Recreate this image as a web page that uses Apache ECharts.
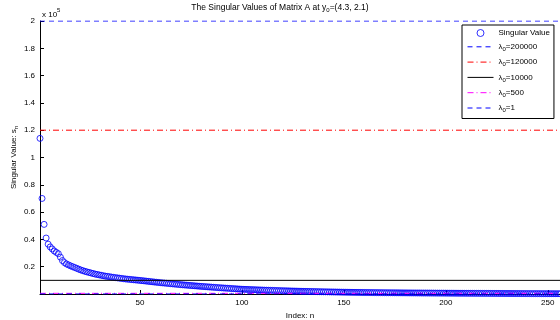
<!DOCTYPE html>
<html>
<head>
<meta charset="utf-8">
<script src="https://cdn.jsdelivr.net/npm/echarts@6/dist/echarts.min.js"></script>
<style>html,body{margin:0;padding:0;background:#fff}#c{width:560px;height:320px}</style>
</head>
<body>
<div id="c"></div>
<script>
// ---- data ----
var singularValues = [
114000,70000,51000,41000,36500,34500,33000,31500,30500,29500,
27000,24500,23000,22000,21300,20600,20000,19400,18800,18200,
17600,17100,16600,16200,15800,15400,15000,14600,14300,14000,
13700,13400,13100,12900,12700,12400,12200,12000,11800,11600,
11400,11200,11000,10850,10700,10550,10400,10250,10100,9950,
9790,9630,9460,9300,9120,8960,8790,8630,8470,8300,
8150,8020,7860,7710,7570,7420,7280,7140,6990,6850,
6720,6590,6470,6350,6220,6090,5970,5850,5720,5600,
5490,5380,5270,5150,5050,4940,4830,4720,4610,4500,
4400,4300,4210,4100,4000,3900,3810,3700,3600,3500,
3440,3380,3320,3250,3200,3140,3080,3020,2960,2900,
2850,2800,2750,2700,2650,2600,2550,2500,2450,2400,
2360,2320,2270,2230,2190,2150,2110,2060,2020,1980,
1945,1910,1875,1840,1805,1770,1735,1700,1665,1630,
1600,1570,1540,1510,1480,1450,1420,1390,1360,1330,
1310,1290,1265,1240,1220,1200,1175,1155,1130,1110,
1095,1080,1060,1045,1030,1015,1000,980,965,950,
935,925,910,900,885,870,860,845,835,820,
810,800,785,775,765,755,745,730,720,710,
700,690,680,670,660,650,640,630,620,610,
600,590,585,575,565,555,545,540,530,520,
510,505,495,490,480,470,465,455,450,440,
435,425,420,410,405,400,390,385,375,370,
365,355,350,340,335,330,320,315,305,300,
295,290,280,275,270,265,260,250,245,240,
235,230,220,215,210,205
];
var lambdaNames = ['200000','120000','10000','500','1'];
var lambdaValues = [200000,120000,10000,500,1];
var lambdaColors = ['#0000ff','#ff0000','#000000','#ff00ff','#0000ff'];
var lambdaDash = [[5,4],[6,3,1,3],'solid',[6,3,1,3],[5,4]];
var xTicks = [50,100,150,200,250];
var yTicks = [20000,40000,60000,80000,100000,120000,140000,160000,180000,200000];
var xMin = 1, xMax = 256, yMin = 0, yMax = 200000;

var FONT = 'Liberation Sans, Arial, sans-serif';
var chart = echarts.init(document.getElementById('c'), null, {renderer:'canvas'});

var scatterData = singularValues.map(function(v,i){return [i+1, v];});
var series = [{
  name: 'Singular Value',
  type: 'scatter',
  data: scatterData,
  symbol: 'circle',
  symbolSize: 6,
  itemStyle: {color: 'rgba(0,0,0,0)', borderColor: '#0000ff', borderWidth: 1},
  z: 3
}];
lambdaValues.forEach(function(v, k){
  series.push({
    name: 'λ0=' + lambdaNames[k],
    type: 'line',
    data: [[xMin, v],[xMax, v]],
    symbol: 'none',
    lineStyle: {color: lambdaColors[k], width: 1, type: lambdaDash[k]},
    itemStyle: {color: lambdaColors[k], opacity: 0},
    z: 4
  });
});

var option = {
  animation: false,
  backgroundColor: '#fff',
  grid: {left: 40, right: 0, top: 21, bottom: 26, containLabel: false, outerBoundsMode: 'none'},
  xAxis: {
    type: 'value', min: xMin, max: xMax,
    name: 'Index: n', nameLocation: 'middle', nameGap: 15,
    nameTextStyle: {fontFamily: FONT, fontSize: 8, color: '#000'},
    axisLine: {show: true, lineStyle: {color: '#000', width: 1}},
    axisTick: {show: true, inside: true, length: 4, lineStyle: {color: '#000'}, customValues: xTicks},
    axisLabel: {fontFamily: FONT, fontSize: 8, color: '#000', margin: 5, customValues: xTicks},
    splitLine: {show: false}
  },
  yAxis: {
    type: 'value', min: yMin, max: yMax,
    name: '{a|Singular Value: s}{s|n}', nameLocation: 'middle', nameGap: 21, nameRotate: 90,
    nameMoveOverlap: false,
    nameTextStyle: {fontFamily: FONT, fontSize: 8, color: '#000',
      rich: {a: {fontFamily: FONT, fontSize: 8, color: '#000'}, s: {fontFamily: FONT, fontSize: 6, color: '#000', padding: [4,0,0,0]}}},
    axisLine: {show: true, lineStyle: {color: '#000', width: 1}},
    axisTick: {show: true, inside: true, length: 4, lineStyle: {color: '#000'}, customValues: yTicks},
    axisLabel: {fontFamily: FONT, fontSize: 8, color: '#000', margin: 5, customValues: yTicks,
      formatter: function(v){ return String(Math.round(v/1e4)/10); }},
    splitLine: {show: false}
  },
  legend: {
    orient: 'vertical', left: 462, top: 25,
    padding: [4,4,5,5],
    itemWidth: 26, itemHeight: 7, itemGap: 5.8,
    backgroundColor: '#fff', borderColor: '#000', borderWidth: 1, borderRadius: 0,
    lineStyle: {width: 1},
    itemStyle: {borderWidth: 1},
    textStyle: {fontFamily: FONT, fontSize: 8, color: '#000',
      rich: {a: {fontFamily: FONT, fontSize: 8, color: '#000'}, s: {fontFamily: FONT, fontSize: 6, color: '#000', padding: [5,0,0,0]}}},
    formatter: function(name){
      if (name.indexOf('λ0=') === 0) return '{a|λ}{s|0}{a|=' + name.slice(3) + '}';
      return '{a|' + name + '}';
    },
    data: series.map(function(s){return s.name;})
  },
  graphic: [
    {type: 'text', left: 'center', top: 3, x: 22,
      style: {text: '{a|The Singular Values of Matrix A at y}{s|0}{a|=(4.3, 2.1)}',
        rich: {a: {fontFamily: FONT, fontSize: 8.5, fill: '#000'}, s: {fontFamily: FONT, fontSize: 6, fill: '#000', padding: [5,0,0,0]}}}},
    {type: 'text', left: 42, top: 7,
      style: {text: '{a|x 10}{p|5}',
        rich: {a: {fontFamily: FONT, fontSize: 8, fill: '#000', padding: [4,0,0,0]}, p: {fontFamily: FONT, fontSize: 6, fill: '#000', padding: [0,0,5,0]}}}}
  ],
  series: series
};
chart.setOption(option);
</script>
</body>
</html>
